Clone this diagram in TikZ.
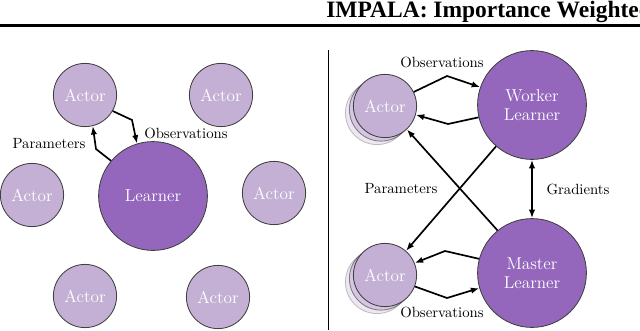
\documentclass[tikz,border=0pt]{standalone}
\usepackage{fontspec}
\newfontfamily\titlefont{Liberation Serif}
\usetikzlibrary{arrows.meta}
\definecolor{learnercol}{HTML}{9467BD}
\definecolor{actorcol}{HTML}{C5B0D5}
\tikzset{
	actor/.style={circle, draw=black!75, line width=0.6pt, fill=actorcol, text=white, minimum size=1.58cm, inner sep=0pt, font=\fontsize{12.2}{13.5}\selectfont},
	learner/.style={actor, fill=learnercol, minimum size=2.72cm, align=center},
	ghost/.style={actor, fill opacity=#1, draw opacity=#1},
	flow/.style={line width=1.2pt, -{Latex[length=6pt, width=4.5pt]}},
	flowlabel/.style={inner sep=0pt, font=\fontsize{10.5}{12}\selectfont}
}

\begin{document}
\begin{tikzpicture}[x=0.025cm, y=-0.025cm]
	\useasboundingbox (0,0) rectangle (640,330);
	\clip (0,0) rectangle (640,330);
	\node[anchor=base west, inner sep=0pt, font={\titlefont\fontsize{16.7}{20}\selectfont\bfseries}] (title) at (326,17) {IMPALA: Importance Weighted Actor-Learner Architectures};
	\draw[line width=1.5pt] (0,25.5) -- (640,25.5);
	\draw[line width=0.6pt] (328,50) -- (328,330);

	\node[learner] (ln) at (153,196) {Learner};
	\node[actor] (a1) at (85,95) {Actor};
	\node[actor] (a2) at (221,95) {Actor};
	\node[actor] (a3) at (32,195) {Actor};
	\node[actor] (a4) at (274,193) {Actor};
	\node[actor] (a7) at (85,296) {Actor};
	\node[actor] (a8) at (218,297) {Actor};
	\draw[flow] (a1.-30) -- (132,120) -- (ln.107);
	\draw[flow] (ln.140) -- (96,149) -- (a1.-76);
	\node[flowlabel] (obsl) at (186,133) {Observations};
	\node[flowlabel] (parl) at (49,144) {Parameters};

	\node[learner] (wl) at (532,105) {Worker\\Learner};
	\node[learner] (ml) at (532,273) {Master\\Learner};
	\node[ghost=0.3] (a5b) at (377,113) {};
	\node[ghost=0.6] (a5m) at (381,109.5) {};
	\node[actor] (a5) at (385,106) {Actor};
	\node[ghost=0.3] (a6b) at (377,282) {};
	\node[ghost=0.6] (a6m) at (381,278.5) {};
	\node[actor] (a6) at (385,275) {Actor};
	\draw[flow] (a5.26) -- (447,76) -- (wl.161);
	\draw[flow] (wl.193) -- (448,124) -- (a5.-16);
	\draw[flow] (wl.-131) -- (a6.49);
	\draw[flow] (ml.129) -- (a5.-47);
	\draw[flow, {Latex[length=6pt, width=4.5pt]}-{Latex[length=6pt, width=4.5pt]}] (wl.south) -- (ml.north);
	\draw[flow] (ml.165) -- (445,251) -- (a6.22);
	\draw[flow] (a6.-21) -- (447,298) -- (ml.196);
	\node[flowlabel] (obst) at (442,62) {Observations};
	\node[flowlabel] (parr) at (401,189) {Parameters};
	\node[flowlabel] (grad) at (578,189) {Gradients};
	\node[flowlabel] (obsb) at (442,312) {Observations};
\end{tikzpicture}
\end{document}
